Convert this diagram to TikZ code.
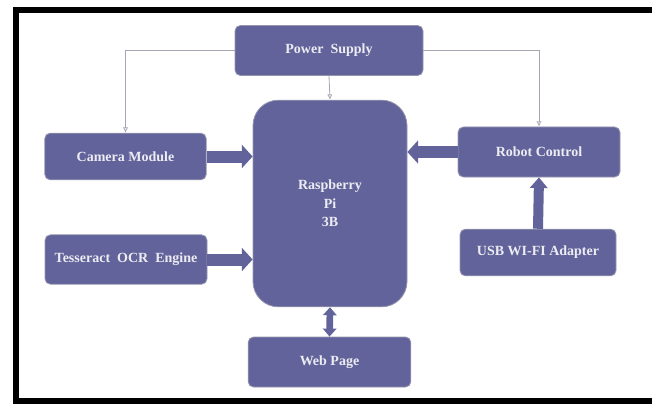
\documentclass[tikz,border=0pt]{standalone}
\usepackage{fontspec}
\setmainfont{Liberation Serif}
\usetikzlibrary{arrows.meta}
\definecolor{boxfill}{RGB}{98,99,155}
\definecolor{boxedge}{RGB}{150,150,175}
\definecolor{feedgray}{RGB}{165,165,180}
\definecolor{boxtext}{RGB}{236,236,242}
\tikzset{
	block/.style={draw=boxedge, line width=0.6pt, fill=boxfill, rounded corners=4pt,
		text=boxtext, font=\fontsize{10.5}{14}\selectfont\bfseries, align=center, inner sep=0pt},
	feed/.style={draw=feedgray, line width=0.6pt, -{Latex[open,length=4pt,width=4pt]}},
	bigarrow/.style={draw=boxfill, line width=9pt, -{Triangle[length=8pt,width=17pt]}},
	midarrow/.style={draw=boxfill, line width=7.5pt, -{Triangle[length=8pt,width=13pt]}},
	twoway/.style={draw=boxfill, line width=5pt, {Triangle[length=6pt,width=10pt]}-{Triangle[length=6pt,width=10pt]}},
	frameline/.style={draw=black, line width=4.5pt}
}
\begin{document}
\begin{tikzpicture}[x=0.75pt,y=-0.75pt]
		\useasboundingbox (0,0) rectangle (652,406);
		% Frame
		\draw[frameline] (13,10) -- (652,10);
		\draw[frameline] (16,7) -- (16,404);
		\draw[frameline] (13,400.5) -- (652,400.5);

		% Blocks
		\node[block, minimum width=141pt, minimum height=37.5pt] (PowerSupply) at (329,50.5) {Power\ \ Supply};
		\node[block, minimum width=115.5pt, minimum height=155pt, rounded corners=19pt] (RaspberryPi) at (330,203.5) {Raspberry\\Pi\\3B};
		\node[block, minimum width=121pt, minimum height=35pt] (CameraModule) at (125.5,156.5) {Camera Module};
		\node[block, minimum width=121.5pt, minimum height=37pt] (TesseractOCR) at (126,259.5) {Tesseract\ \ OCR\ \ Engine};
		\node[block, minimum width=121.5pt, minimum height=37.5pt] (RobotControl) at (539,152) {Robot Control};
		\node[block, minimum width=117pt, minimum height=35pt] (USBWiFi) at (538,252.5) {USB WI-FI Adapter};
		\node[block, minimum width=122pt, minimum height=37.5pt] (WebPage) at (329.5,362) {Web Page};

		% Power feeds
		\draw[feed] (PowerSupply.west) -| (CameraModule.north);
		\draw[feed] (PowerSupply.east) -| (RobotControl.north);
		\draw[feed] (PowerSupply.south) -- (RaspberryPi.north);

		% Data links
		\draw[bigarrow] (CameraModule.east) -- (CameraModule.east -| RaspberryPi.west);
		\draw[bigarrow] (TesseractOCR.east) -- (TesseractOCR.east -| RaspberryPi.west);
		\draw[bigarrow] (RobotControl.west) -- (RobotControl.west -| RaspberryPi.east);
		\draw[midarrow] (USBWiFi.north) -- (RobotControl.south);
		\draw[twoway] (RaspberryPi.south) -- (WebPage.north);
\end{tikzpicture}
\end{document}
